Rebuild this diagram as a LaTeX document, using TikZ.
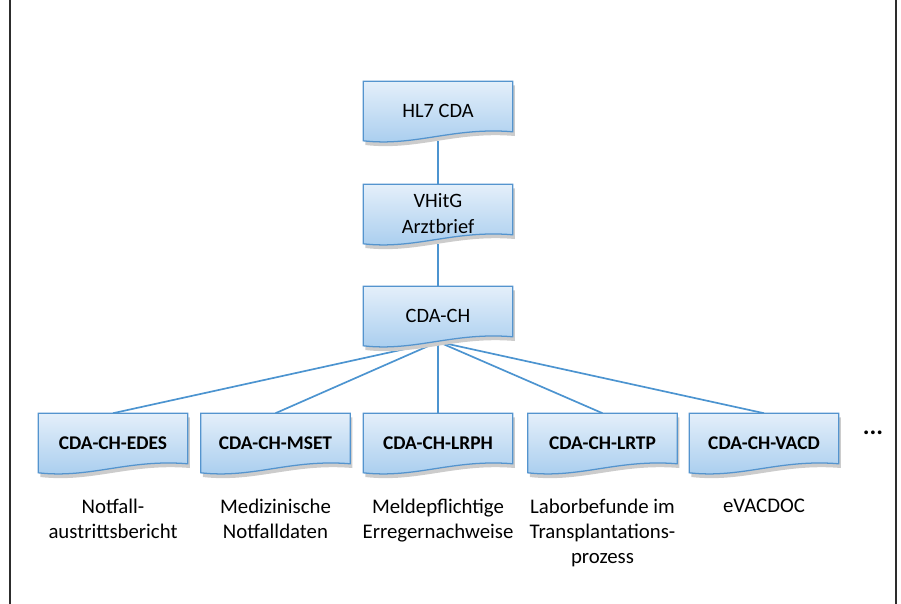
\documentclass[tikz,border=0pt]{standalone}
\usepackage{fontspec}
\setmainfont{Carlito}
\usetikzlibrary{positioning,backgrounds}
\definecolor{docline}{RGB}{84,148,206}
\definecolor{doctop}{RGB}{228,239,250}
\definecolor{docbottom}{RGB}{166,204,238}
\definecolor{linkblue}{RGB}{76,148,208}
\definecolor{framegray}{RGB}{45,45,45}

% outline of a document shape round a node
\newcommand{\docpath}[1]{(#1.north west) -- (#1.north east) -- ([yshift=0.225cm]#1.south east)
  .. controls ([xshift=-1.49cm,yshift=0.35cm]#1.south east) and ([xshift=1.3cm,yshift=-0.15cm]#1.south west) .. (#1.south west) -- cycle}

\tikzset{
  docbox/.style={minimum width=3.725cm, minimum height=1.475cm, inner sep=0pt, align=center,
    font=\fontsize{14.5}{18.5}\selectfont},
  subbox/.style={docbox, font=\fontsize{13.8}{16}\selectfont\bfseries},
  doclabel/.style={align=center, inner sep=0pt, font=\fontsize{14.8}{17.7}\selectfont},
  link/.style={draw=linkblue, line width=1.2pt}
}

\begin{document}
\begin{tikzpicture}[x=0.025cm, y=-0.025cm]
  \useasboundingbox (0,0) rectangle (901,604);

  % Frame
  \draw[framegray, line width=1.4pt] (10,0) -- (10,604);
  \draw[framegray, line width=1.4pt] (896,0) -- (896,604);

  % Main chain
  \node[docbox] (hl7) at (438,111) {HL7 CDA};
  \node[docbox] (vhitg) at (438,214) {VHitG\\Arztbrief};
  \node[docbox] (cdach) at (438,316) {CDA-CH};

  % Exchange formats
  \node[subbox] (edes) at (113,443) {CDA-CH-EDES};
  \node[subbox] (mset) at (275.5,443) {CDA-CH-MSET};
  \node[subbox] (lrph) at (438,443) {CDA-CH-LRPH};
  \node[subbox] (lrtp) at (602.5,443) {CDA-CH-LRTP};
  \node[subbox] (vacd) at (764,443) {CDA-CH-VACD};
  \node[font=\fontsize{18}{18}\selectfont\bfseries] (more) at (873,433) {...};

  % Descriptions
  \node[doclabel, below=0.66cm of edes, anchor=north] (edesl) {Notfall-\\austrittsbericht};
  \node[doclabel, below=0.66cm of mset, anchor=north] (msetl) {Medizinische\\Notfalldaten};
  \node[doclabel, below=0.66cm of lrph, anchor=north] (lrphl) {Meldepflichtige\\Erregernachweise};
  \node[doclabel, below=0.66cm of lrtp, anchor=north] (lrtpl) {Laborbefunde im\\Transplantations-\\prozess};
  \node[doclabel, below=0.66cm of vacd, anchor=north] (vacdl) {eVACDOC};

  \begin{pgfonlayer}{background}
    % Connectors
    \draw[link] (hl7.south) -- (vhitg.north);
    \draw[link] (vhitg.south) -- (cdach.north);
    \foreach \n in {edes,mset,lrph,lrtp,vacd}
      \draw[link] ([yshift=0.1cm]cdach.south) -- (\n.north);

    % Document shapes
    \foreach \n in {hl7,vhitg,cdach,edes,mset,lrph,lrtp,vacd}{
      \fill[black!20, transform canvas={shift={(1.5pt,-3pt)}}] \docpath{\n};
      \shade[top color=doctop, bottom color=docbottom, draw=docline, line width=0.9pt] \docpath{\n};
    }
  \end{pgfonlayer}
\end{tikzpicture}
\end{document}
